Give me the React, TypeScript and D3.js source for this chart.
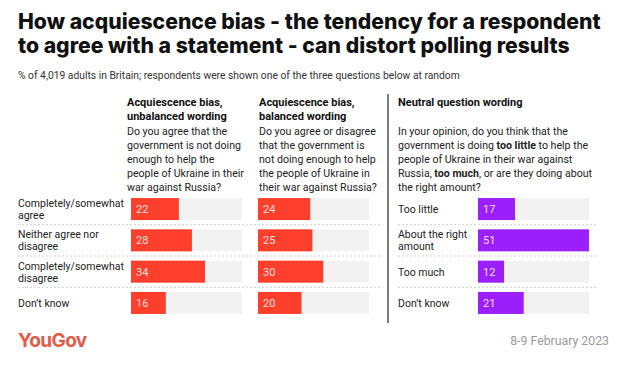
import React from "react";
import * as d3 from "d3";

const titleLines = [
  "How acquiescence bias - the tendency for a respondent",
  "to agree with a statement - can distort polling results",
];
const subtitle =
  "% of 4,019 adults in Britain; respondents were shown one of the three questions below at random";

const agreeCategories = [
  ["Completely/somewhat", "agree"],
  ["Neither agree nor", "disagree"],
  ["Completely/somewhat", "disagree"],
  ["Don’t know"],
];
const neutralCategories = [
  ["Too little"],
  ["About the right", "amount"],
  ["Too much"],
  ["Don’t know"],
];

const unbalancedValues = [22, 28, 34, 16];
const balancedValues = [24, 25, 30, 20];
const neutralValues = [17, 51, 12, 21];

const unbalancedHeader = ["Acquiescence bias,", "unbalanced wording"];
const balancedHeader = ["Acquiescence bias,", "balanced wording"];
const neutralHeader = ["Neutral question wording"];

// each line is a list of [text, bold]
const unbalancedQuestion: [string, boolean][][] = [
  [["Do you agree that the", false]],
  [["government is not doing", false]],
  [["enough to help the", false]],
  [["people of Ukraine in their", false]],
  [["war against Russia?", false]],
];
const balancedQuestion: [string, boolean][][] = [
  [["Do you agree or disagree", false]],
  [["that the government is", false]],
  [["not doing enough to help", false]],
  [["the people of Ukraine in", false]],
  [["their war against Russia?", false]],
];
const neutralQuestion: [string, boolean][][] = [
  [["In your opinion, do you think that the", false]],
  [["government is doing ", false], ["too little", true], [" to help the", false]],
  [["people of Ukraine in their war against", false]],
  [["Russia, ", false], ["too much", true], [", or are they doing about", false]],
  [["the right amount?", false]],
];

const footerSource = "YouGov";
const footerDate = "8-9 February 2023";

const RED = "#fe3f2b";
const PURPLE = "#9b1ffb";
const BG = "#f2f2f2";
const TITLE_FONT = "Inter, 'Noto Sans', sans-serif";
const BODY_FONT = "Roboto, 'Noto Sans', sans-serif";

export default function App() {
  const W = 620;
  const H = 375;
  const x = d3.scaleLinear().domain([0, 51]).range([0, 111]);
  const rowKeys = d3.range(4).map(String);
  const y = d3
    .scaleBand<string>()
    .domain(rowKeys)
    .range([193.4, 318.6])
    .paddingInner(0.297)
    .paddingOuter(0.1485);

  const columns = [
    { x0: 131, header: unbalancedHeader, question: unbalancedQuestion, values: unbalancedValues, color: RED, tx: 127 },
    { x0: 258, header: balancedHeader, question: balancedQuestion, values: balancedValues, color: RED, tx: 259 },
    { x0: 478, header: neutralHeader, question: neutralQuestion, values: neutralValues, color: PURPLE, tx: 398 },
  ];

  const step = y.step();
  const sepYs = [1, 2, 3].map((i) => (y("0") as number) - (step - y.bandwidth()) / 2 + i * step);

  const renderLabel = (lines: string[], lx: number, key: string) => {
    const cy = (y(key) as number) + y.bandwidth() / 2;
    const offs = lines.length === 1 ? [0] : [-6, 6];
    return lines.map((l, j) => (
      <text key={j} x={lx} y={cy + offs[j] + 4} fontSize={10.5} fill="#222">
        {l}
      </text>
    ));
  };

  return (
    <svg width={W} height={H} style={{ position: "absolute", left: 0, top: 0, background: "#fff" }} fontFamily={BODY_FONT}>
      <rect width={W} height={H} fill="#fff" />
      {titleLines.map((t, i) => (
        <text key={i} x={18} y={29 + i * 24} fontSize={21.2} fontWeight={800} fill="#111" fontFamily={TITLE_FONT}>
          {t}
        </text>
      ))}
      <text x={18} y={79} fontSize={10.3} fill="#333">
        {subtitle}
      </text>

      {/* divider */}
      <line x1={388} x2={388} y1={94} y2={323} stroke="#222" strokeWidth={1.2} />

      {/* row separators */}
      {sepYs.map((sy, i) => (
        <g key={i}>
          <line x1={18} x2={383} y1={sy} y2={sy} stroke="#cfcfcf" strokeDasharray="2,2" />
          <line x1={398} x2={598} y1={sy} y2={sy} stroke="#cfcfcf" strokeDasharray="2,2" />
        </g>
      ))}

      {/* row labels */}
      {agreeCategories.map((c, i) => (
        <g key={"a" + i}>{renderLabel(c, 18, rowKeys[i])}</g>
      ))}
      {neutralCategories.map((c, i) => (
        <g key={"n" + i}>{renderLabel(c, 398, rowKeys[i])}</g>
      ))}

      {columns.map((col, ci) => (
        <g key={ci}>
          {col.header.map((h, i) => (
            <text key={i} x={col.tx} y={106 + i * 14} fontSize={11} fontWeight={700} fill="#111">
              {h}
            </text>
          ))}
          {col.question.map((line, i) => (
            <text key={i} x={col.tx} y={135 + i * 14} fontSize={10.6} fill="#222">
              {line.map(([t, b], k) => (
                <tspan key={k} fontWeight={b ? 700 : 400}>
                  {t}
                </tspan>
              ))}
            </text>
          ))}
          {col.values.map((v, i) => (
            <g key={i}>
              <rect x={col.x0} y={y(rowKeys[i])} width={x(51)} height={y.bandwidth()} fill={BG} />
              <rect x={col.x0} y={y(rowKeys[i])} width={x(v)} height={y.bandwidth()} fill={col.color} />
              <text
                x={col.x0 + 5}
                y={(y(rowKeys[i]) as number) + y.bandwidth() / 2 + 4}
                fontSize={11}
                fill="#fff"
                fillOpacity={0.85}
              >
                {v}
              </text>
            </g>
          ))}
        </g>
      ))}

      <text x={18} y={347} fontSize={19} fontWeight={700} fill="#e45a48" letterSpacing={-0.6} fontFamily={TITLE_FONT}>
        {footerSource}
      </text>
      <text x={609} y={345} fontSize={12.3} fill="#9a9a9a" textAnchor="end">
        {footerDate}
      </text>
    </svg>
  );
}
